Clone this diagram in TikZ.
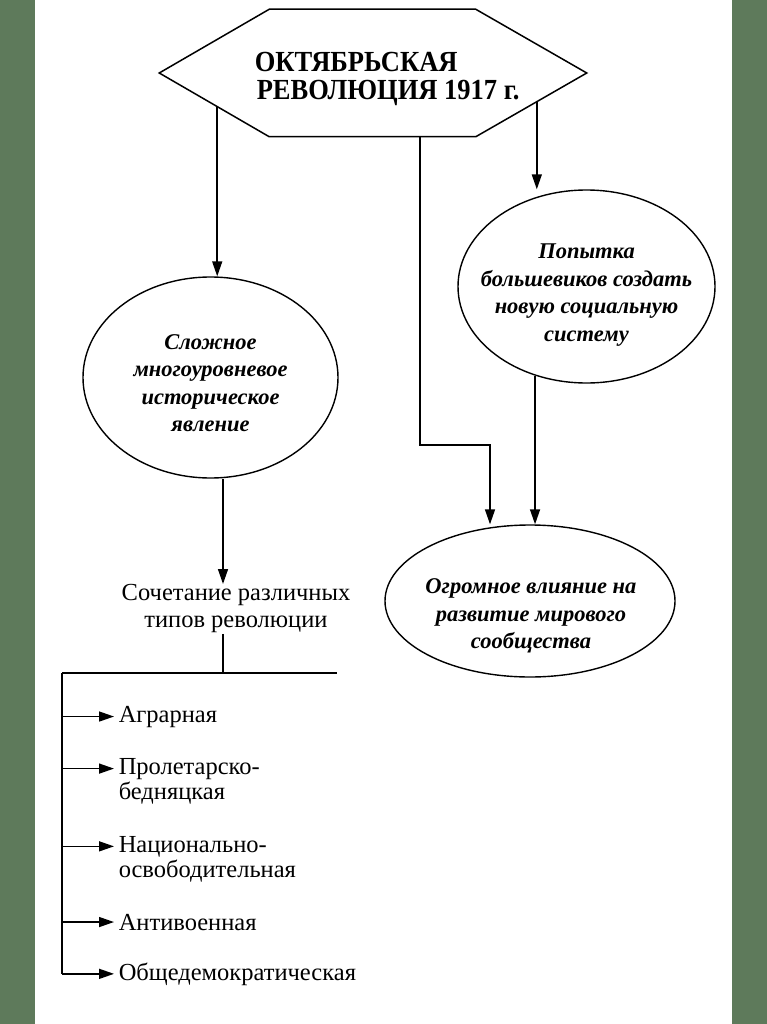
\documentclass[tikz,border=0pt]{standalone}
\usepackage{fontspec}
\usepackage{graphicx}
\setmainfont{Liberation Serif}
\usetikzlibrary{arrows.meta,shapes.geometric,calc}
\definecolor{framegreen}{RGB}{94,122,91}
\begin{document}
\begin{tikzpicture}[x=1pt,y=-1pt,
  line width=1.5pt,
  arr/.style={-{Triangle[length=15pt,width=10pt]}},
  oval/.style={draw, ellipse, inner sep=0pt, line width=1.4pt},
  otext/.style={align=center, font=\fontsize{22.5}{27.5}\selectfont\bfseries\itshape, inner sep=0pt},
  ltext/.style={anchor=base west, font=\fontsize{24.5}{27}\selectfont, inner sep=0pt},
  htext/.style={anchor=base west, font=\fontsize{26.5}{28}\selectfont\bfseries, inner sep=0pt}]
\useasboundingbox (0,0) rectangle (767,1024);
\fill[framegreen] (0,0) rectangle (35,1024);
\fill[framegreen] (732,0) rectangle (767,1024);

% hexagon
\node[minimum width=426pt, minimum height=126pt, inner sep=0pt] (hex) at (373,73) {};
\draw (hex.west) -- ([xshift=110pt]hex.north west) -- ([xshift=-111pt]hex.north east)
  -- (hex.east) -- ([xshift=-111pt]hex.south east) -- ([xshift=110pt]hex.south west) -- cycle;
\node[htext] (h1) at (254,72) {\scalebox{1}[1.1]{ОКТЯБРЬСКАЯ}};
\node[htext] (h2) at (256,100) {\scalebox{1}[1.1]{РЕВОЛЮЦИЯ 1917 г.}};
\coordinate (hexL) at ($(hex.west)!0.527!([xshift=110pt]hex.south west)$);
\coordinate (hexR) at ($(hex.east)!0.45!([xshift=-111pt]hex.south east)$);
\coordinate (hexM) at ([xshift=47pt]hex.south);

% ellipses
\node[oval, minimum width=255pt, minimum height=201pt] (ell1) at (210.5,377.5) {};
\node[otext] (ell1t) at (210.5,383) {Сложное\\многоуровневое\\историческое\\явление};
\node[oval, minimum width=257pt, minimum height=193pt] (ell2) at (586.5,286.5) {};
\node[otext] (ell2t) at (586.5,295) {Попытка\\большевиков создать\\новую социальную\\систему};
\node[oval, minimum width=290pt, minimum height=152pt] (ell3) at (530,601) {};
\node[otext] (ell3t) at (531,616) {Огромное влияние на\\развитие мирового\\сообщества};

% combination text
\node[align=center, font=\fontsize{24.5}{27}\selectfont, inner sep=0pt, anchor=north] (comb) at (236,584) {Сочетание различных\\типов революции};

% connectors
\draw[arr] (hexL) -- (hexL |- ell1.north);
\draw[arr] (hexR) -- (hexR |- ell2.north);
\coordinate (bend) at (490,445);
\draw[arr] (hexM) |- (bend) -- (bend |- ell3.north);
\draw[arr] (ell2.240) -- (ell2.240 |- ell3.north);
\coordinate (c1) at (223,0);
\draw[arr] (ell1.south -| c1) -- (c1 |- comb.north);

\coordinate (hl) at (62,673);
\coordinate (hr) at (337,673);
\draw (comb.south -| c1) -- (hl -| c1);
\draw (hl) -- (hr);

% list
\node[ltext] (a1) at (118,722) {Аграрная};
\node[ltext] (a2) at (118,774) {Пролетарско-};
\node[ltext] (a2b) at (118,799) {бедняцкая};
\node[ltext] (a3) at (118,852) {Национально-};
\node[ltext] (a3b) at (118,877) {освободительная};
\node[ltext] (a4) at (118,930) {Антивоенная};
\node[ltext] (a5) at (118,980) {Общедемократическая};

\draw (hl) -- (hl |- a5.west);
\foreach \n in {a1,a2,a3,a4,a5}
  \draw[arr, shorten >=4pt] (hl |- \n.west) -- (\n.west);
\end{tikzpicture}
\end{document}
